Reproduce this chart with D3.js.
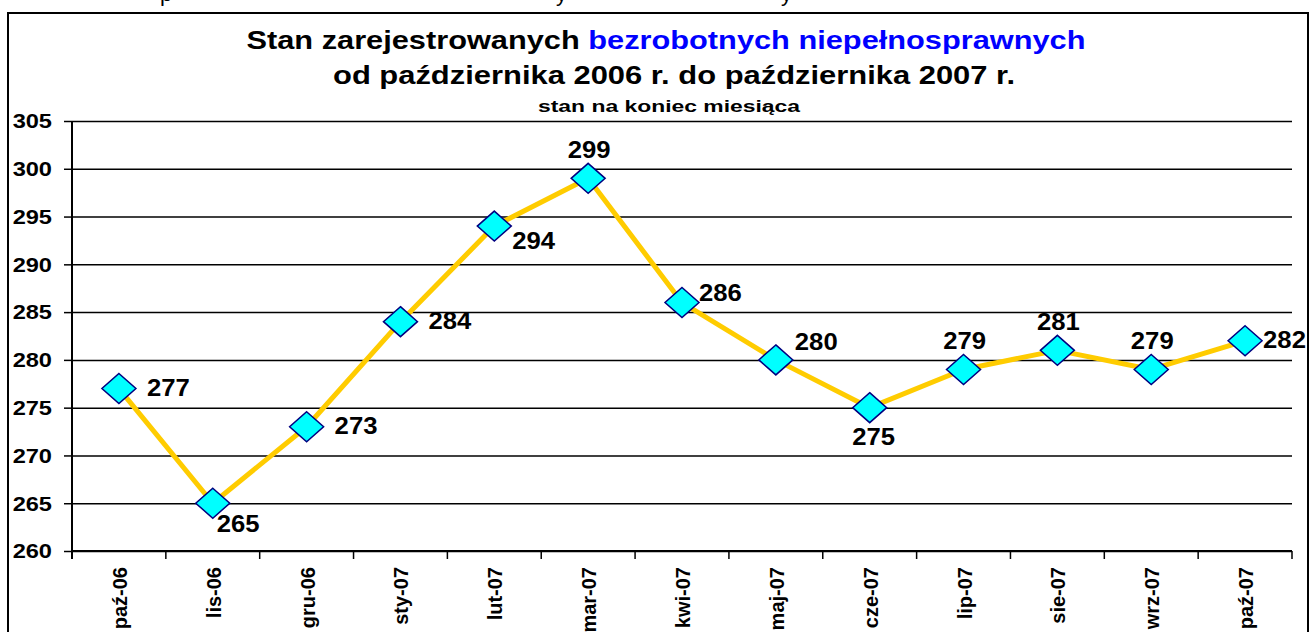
<!DOCTYPE html>
<html>
<head>
<meta charset="utf-8">
<title>Bezrobotni niepełnosprawni</title>
<style>
body { margin: 0; background: #fff; }
svg text { font-family: Arial, "Liberation Sans", sans-serif; font-weight: bold; }
</style>
</head>
<body>
<svg id="chart" width="1310" height="632"></svg>

<script src="https://cdn.jsdelivr.net/npm/d3@7"></script>
<script>
// data
const months = ['paź-06', 'lis-06', 'gru-06', 'sty-07', 'lut-07', 'mar-07', 'kwi-07',
                'maj-07', 'cze-07', 'lip-07', 'sie-07', 'wrz-07', 'paź-07'];
const counts = [277, 265, 273, 284, 294, 299, 286, 280, 275, 279, 281, 279, 282];
const yTicks = [260, 265, 270, 275, 280, 285, 290, 295, 300, 305];
// where excel put each data label
const labelSpots = ['right', 'belowRight', 'right', 'right', 'rightBelow', 'above', 'rightUp',
                    'aboveRight', 'below', 'above', 'above', 'above', 'rightTight'];

const svg = d3.select('#chart');
const plotL = 72, plotR = 1292, plotT = 121, plotB = 551;

const x = d3.scaleBand().domain(months).range([plotL, plotR]);
const y = d3.scaleLinear().domain([260, 305]).range([plotB, plotT]);
const cx = m => x(m) + x.bandwidth() / 2;

// scrap of the document line above the chart (only descenders show)
svg.append('g')
  .style('font-family', '"Liberation Serif", "Times New Roman", serif')
  .selectAll('text')
  .data([['p', 160], ['y', 556], ['y', 781]])
  .join('text')
  .attr('x', d => d[1]).attr('y', 1)
  .style('font-weight', 'normal').style('font-size', '22px')
  .text(d => d[0]);

// outer frame
svg.append('rect')
  .attr('x', 8).attr('y', 13).attr('width', 1300).attr('height', 640)
  .attr('fill', 'none').attr('stroke', '#000').attr('stroke-width', 2);

// titles
const t1 = svg.append('text').attr('x', 666).attr('y', 49)
  .attr('text-anchor', 'middle').style('font-size', '25px')
  .attr('textLength', 839).attr('lengthAdjust', 'spacingAndGlyphs');
t1.append('tspan').text('Stan zarejestrowanych ');
t1.append('tspan').attr('fill', '#0000ff').text('bezrobotnych niepełnosprawnych');

svg.append('text').attr('x', 674).attr('y', 84)
  .attr('text-anchor', 'middle').style('font-size', '25px')
  .attr('textLength', 682).attr('lengthAdjust', 'spacingAndGlyphs')
  .text('od października 2006 r. do października 2007 r.');

svg.append('text').attr('x', 669).attr('y', 112)
  .attr('text-anchor', 'middle').style('font-size', '17px')
  .attr('textLength', 262).attr('lengthAdjust', 'spacingAndGlyphs')
  .text('stan na koniec miesiąca');

// gridlines
svg.append('g')
  .attr('transform', `translate(${plotL},0)`)
  .call(d3.axisLeft(y).tickValues(yTicks).tickSize(-(plotR - plotL)).tickFormat(''))
  .call(g => g.select('.domain').remove())
  .call(g => g.selectAll('line').attr('stroke', '#000').attr('stroke-width', 1.5));

// y axis
const yAxis = svg.append('g')
  .attr('transform', `translate(${plotL},0)`)
  .call(d3.axisLeft(y).tickValues(yTicks).tickSize(8).tickPadding(0).tickFormat(d3.format('d')));
yAxis.select('.domain').attr('d', `M0,${plotT}V${plotB + 8}`).attr('stroke', '#000').attr('stroke-width', 2);
yAxis.selectAll('line').attr('stroke', '#000').attr('stroke-width', 1.5);
yAxis.selectAll('text')
  .attr('x', null).attr('dy', null)
  .attr('text-anchor', 'end')
  .attr('dominant-baseline', 'central')
  .attr('transform', 'translate(-20,0) scale(1.18,1)')
  .style('font-size', '20px').attr('fill', '#000');

// x axis: line, ticks between categories, rotated labels
svg.append('line')
  .attr('x1', plotL).attr('x2', plotR).attr('y1', plotB).attr('y2', plotB)
  .attr('stroke', '#000').attr('stroke-width', 2);
svg.append('g').selectAll('line')
  .data(months.map(m => x(m)).concat([plotR]))
  .join('line')
  .attr('x1', d => d).attr('x2', d => d)
  .attr('y1', plotB).attr('y2', plotB + 8)
  .attr('stroke', '#000').attr('stroke-width', 1.5);
svg.append('g').selectAll('text')
  .data(months)
  .join('text')
  .attr('transform', d => `translate(${cx(d) + 8},${plotB + 16}) rotate(-90)`)
  .attr('text-anchor', 'end')
  .style('font-size', '20px')
  .text(d => d);

// the series
const pts = months.map((m, i) => ({ m, v: counts[i], spot: labelSpots[i] }));

svg.append('path')
  .datum(pts)
  .attr('fill', 'none')
  .attr('stroke', '#ffcc00')
  .attr('stroke-width', 5)
  .attr('stroke-linejoin', 'round')
  .attr('d', d3.line().x(d => cx(d.m)).y(d => y(d.v)));

svg.append('g').selectAll('path')
  .data(pts)
  .join('path')
  .attr('transform', d => `translate(${cx(d.m)},${y(d.v)})`)
  .attr('d', 'M0,-15L17,0L0,15L-17,0Z')
  .attr('fill', '#00ffff')
  .attr('stroke', '#000080')
  .attr('stroke-width', 1.5);

// label offsets per placement: [dx, dy, anchor]
const spotOffset = {
  right: [28, -1, 'start'],
  rightTight: [18, -1, 'start'],
  rightBelow: [18, 15, 'start'],
  rightUp: [17, -10, 'start'],
  aboveRight: [19, -18, 'start'],
  belowRight: [4, 21, 'start'],
  above: [1, -29, 'middle'],
  below: [4, 29, 'middle']
};

svg.append('g').selectAll('text')
  .data(pts)
  .join('text')
  .attr('transform', d => {
    const o = spotOffset[d.spot];
    return `translate(${cx(d.m) + o[0]},${y(d.v) + o[1]}) scale(1.07,1)`;
  })
  .attr('text-anchor', d => spotOffset[d.spot][2])
  .attr('dominant-baseline', 'central')
  .style('font-size', '24px')
  .text(d => d.v);
</script>
</body>
</html>
